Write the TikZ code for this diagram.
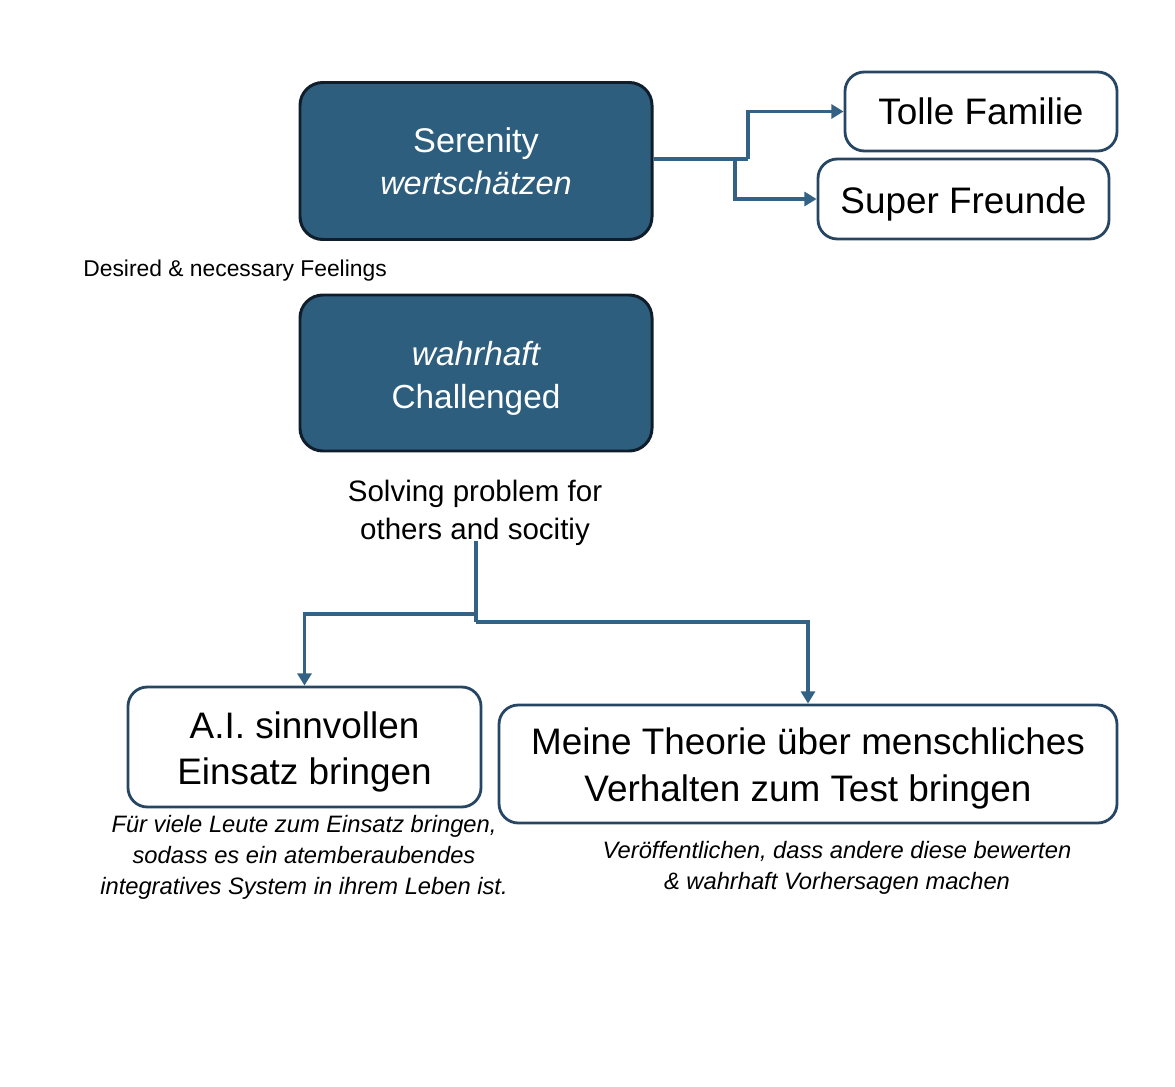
\documentclass[tikz,border=0pt]{standalone}
\usepackage{fontspec}
\setmainfont{Liberation Sans}
\usetikzlibrary{arrows.meta}
\definecolor{darkfill}{RGB}{46,94,126}
\definecolor{darkedge}{RGB}{16,30,44}
\definecolor{boxedge}{RGB}{38,70,100}
\definecolor{conncol}{RGB}{52,98,132}
\tikzset{
  darkbox/.style={draw=darkedge, fill=darkfill, line width=1.7pt, rounded corners=13pt,
    text=white, align=center, inner sep=0pt},
  whitebox/.style={draw=boxedge, fill=white, line width=1.6pt, rounded corners=11pt,
    text=black, align=center, inner sep=0pt},
  conn/.style={draw=conncol, line width=1.8pt, -{Triangle[width=8pt,length=7pt]}},
  plain/.style={draw=conncol, line width=1.8pt},
  captxt/.style={align=center, inner sep=0pt, font=\fontsize{13.5}{17.6}\selectfont\itshape}
}
\begin{document}
\begin{tikzpicture}[x=0.02cm, y=-0.02cm]
\useasboundingbox (0,0) rectangle (1175,1087);

\node[darkbox, minimum width=352*0.02cm, minimum height=157*0.02cm,
  font=\fontsize{19.5}{24}\selectfont] (ser) at (476,161)
  {Serenity\\ {\fontsize{18.5}{24}\selectfont\itshape wertschätzen}};
\node[whitebox, minimum width=272*0.02cm, minimum height=79*0.02cm,
  font=\fontsize{21}{25}\selectfont] (tolle) at (981,111.5) {Tolle Familie};
\node[whitebox, minimum width=291*0.02cm, minimum height=80*0.02cm,
  font=\fontsize{21}{25}\selectfont] (super) at (963.5,199) {\rule{0pt}{20.5pt}Super Freunde};

\coordinate (b1) at (748,159);
\coordinate (b2) at (735,159);
\draw[plain] (ser.east |- b1) -- (b1);
\draw[conn] (b1) |- (tolle.west);
\draw[conn] (b2) |- (super.west);

\node[anchor=west, inner sep=0pt, font=\fontsize{13}{15}\selectfont] (des) at (83,271)
  {Desired \& necessary Feelings};

\node[darkbox, minimum width=352*0.02cm, minimum height=156*0.02cm,
  font=\fontsize{19}{24.5}\selectfont] (chal) at (476,373)
  {\rule{0pt}{20pt}{\itshape wahrhaft}\\ Challenged};

\node[align=center, inner sep=0pt, font=\fontsize{16.8}{21.5}\selectfont] (solve) at (475,513)
  {Solving problem for\\ others and socitiy};

\node[whitebox, minimum width=353*0.02cm, minimum height=120*0.02cm,
  font=\fontsize{21}{26.6}\selectfont] (ai) at (304.5,747)
  {\rule{0pt}{21pt}A.I. sinnvollen\\ Einsatz bringen};
\node[whitebox, minimum width=618*0.02cm, minimum height=118*0.02cm,
  font=\fontsize{21}{26.6}\selectfont] (meine) at (808,764)
  {\rule{0pt}{20pt}Meine Theorie über menschliches\\ Verhalten zum Test bringen};

\coordinate (s0) at (476,541);
\coordinate (s1) at (476,614);
\coordinate (s2) at (476,622);
\draw[plain] (s0) -- (s1);
\draw[conn] (s1) -| (ai.north);
\draw[plain] (s1) -- (s2);
\draw[conn] (s2) -| (meine.north);

\node[captxt] (capai) at (304,857)
  {Für viele Leute zum Einsatz bringen,\\ sodass es ein atemberaubendes\\ integratives System in ihrem Leben ist.};
\node[captxt] (capme) at (837,868)
  {Veröffentlichen, dass andere diese bewerten\\ \& wahrhaft Vorhersagen machen};
\end{tikzpicture}
\end{document}
